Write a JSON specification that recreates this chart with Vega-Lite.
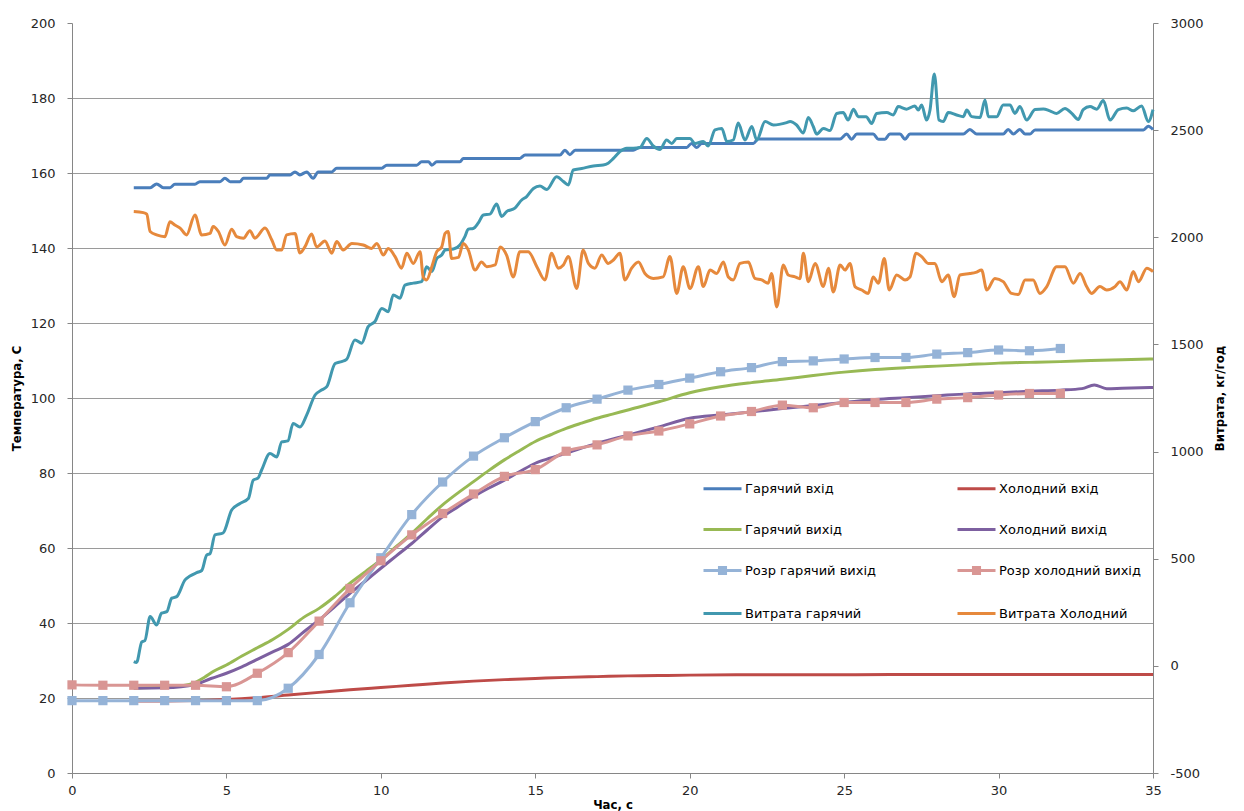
{
  "$schema": "https://vega.github.io/schema/vega-lite/v6.json",
  "width": 1081,
  "height": 750,
  "autosize": {"type": "none"},
  "padding": {"left": 72, "top": 23, "right": 91, "bottom": 38},
  "background": "white",
  "config": {
    "view": {"stroke": null},
    "font": "DejaVu Sans",
    "axis": {
      "domainColor": "#868686",
      "tickColor": "#868686",
      "tickSize": 5,
      "labelFont": "DejaVu Sans",
      "labelFontSize": 13,
      "labelColor": "#262626",
      "titleFont": "Liberation Sans Narrow, DejaVu Sans Condensed, DejaVu Sans",
      "titleFontSize": 13,
      "titleFontWeight": "bold",
      "titleColor": "#000000",
      "gridColor": "#9a9a9a",
      "gridWidth": 1
    }
  },
  "datasets": {
    "temp": [
      {"t":2.0,"v":156.1,"s":"Гарячий вхід"},{"t":2.53,"v":156.1,"s":"Гарячий вхід"},{"t":2.74,"v":157.1,"s":"Гарячий вхід"},{"t":2.96,"v":156.1,"s":"Гарячий вхід"},{"t":3.17,"v":156.1,"s":"Гарячий вхід"},{"t":3.33,"v":157.0,"s":"Гарячий вхід"},{"t":3.98,"v":157.0,"s":"Гарячий вхід"},{"t":4.14,"v":157.7,"s":"Гарячий вхід"},{"t":4.79,"v":157.7,"s":"Гарячий вхід"},{"t":4.95,"v":158.6,"s":"Гарячий вхід"},{"t":5.12,"v":157.7,"s":"Гарячий вхід"},{"t":5.44,"v":157.7,"s":"Гарячий вхід"},{"t":5.55,"v":158.6,"s":"Гарячий вхід"},{"t":6.30,"v":158.6,"s":"Гарячий вхід"},{"t":6.41,"v":159.5,"s":"Гарячий вхід"},{"t":7.06,"v":159.5,"s":"Гарячий вхід"},{"t":7.22,"v":160.3,"s":"Гарячий вхід"},{"t":7.38,"v":159.5,"s":"Гарячий вхід"},{"t":7.60,"v":160.3,"s":"Гарячий вхід"},{"t":7.81,"v":158.6,"s":"Гарячий вхід"},{"t":7.97,"v":160.3,"s":"Гарячий вхід"},{"t":8.41,"v":160.3,"s":"Гарячий вхід"},{"t":8.57,"v":161.3,"s":"Гарячий вхід"},{"t":10.03,"v":161.3,"s":"Гарячий вхід"},{"t":10.19,"v":162.1,"s":"Гарячий вхід"},{"t":11.16,"v":162.1,"s":"Гарячий вхід"},{"t":11.32,"v":163.0,"s":"Гарячий вхід"},{"t":11.54,"v":163.0,"s":"Гарячий вхід"},{"t":11.65,"v":162.1,"s":"Гарячий вхід"},{"t":11.81,"v":163.0,"s":"Гарячий вхід"},{"t":12.56,"v":163.0,"s":"Гарячий вхід"},{"t":12.67,"v":163.9,"s":"Гарячий вхід"},{"t":14.50,"v":163.9,"s":"Гарячий вхід"},{"t":14.67,"v":164.8,"s":"Гарячий вхід"},{"t":15.80,"v":164.8,"s":"Гарячий вхід"},{"t":15.96,"v":166.1,"s":"Гарячий вхід"},{"t":16.12,"v":164.9,"s":"Гарячий вхід"},{"t":16.29,"v":166.1,"s":"Гарячий вхід"},{"t":18.17,"v":166.1,"s":"Гарячий вхід"},{"t":18.39,"v":166.8,"s":"Гарячий вхід"},{"t":19.90,"v":166.8,"s":"Гарячий вхід"},{"t":20.06,"v":167.9,"s":"Гарячий вхід"},{"t":20.23,"v":166.8,"s":"Гарячий вхід"},{"t":20.39,"v":167.9,"s":"Гарячий вхід"},{"t":22.06,"v":167.9,"s":"Гарячий вхід"},{"t":22.22,"v":169.1,"s":"Гарячий вхід"},{"t":24.87,"v":169.1,"s":"Гарячий вхід"},{"t":25.08,"v":170.4,"s":"Гарячий вхід"},{"t":25.24,"v":169.0,"s":"Гарячий вхід"},{"t":25.41,"v":170.4,"s":"Гарячий вхід"},{"t":25.94,"v":170.4,"s":"Гарячий вхід"},{"t":26.11,"v":169.0,"s":"Гарячий вхід"},{"t":26.32,"v":169.0,"s":"Гарячий вхід"},{"t":26.48,"v":170.4,"s":"Гарячий вхід"},{"t":26.81,"v":170.4,"s":"Гарячий вхід"},{"t":26.97,"v":169.0,"s":"Гарячий вхід"},{"t":27.13,"v":170.4,"s":"Гарячий вхід"},{"t":28.86,"v":170.4,"s":"Гарячий вхід"},{"t":29.07,"v":171.6,"s":"Гарячий вхід"},{"t":29.29,"v":170.4,"s":"Гарячий вхід"},{"t":30.15,"v":170.4,"s":"Гарячий вхід"},{"t":30.31,"v":171.6,"s":"Гарячий вхід"},{"t":30.48,"v":170.4,"s":"Гарячий вхід"},{"t":30.69,"v":171.6,"s":"Гарячий вхід"},{"t":30.86,"v":170.4,"s":"Гарячий вхід"},{"t":31.02,"v":170.4,"s":"Гарячий вхід"},{"t":31.18,"v":171.5,"s":"Гарячий вхід"},{"t":34.69,"v":171.5,"s":"Гарячий вхід"},{"t":34.85,"v":172.5,"s":"Гарячий вхід"},{"t":35.0,"v":171.6,"s":"Гарячий вхід"},

      {"t":2,"v":19.2,"s":"Холодний вхід"},{"t":3,"v":19.2,"s":"Холодний вхід"},{"t":4,"v":19.3,"s":"Холодний вхід"},{"t":5,"v":19.6,"s":"Холодний вхід"},{"t":6,"v":20.1,"s":"Холодний вхід"},{"t":7,"v":20.8,"s":"Холодний вхід"},{"t":8,"v":21.5,"s":"Холодний вхід"},{"t":9,"v":22.2,"s":"Холодний вхід"},{"t":10,"v":22.8,"s":"Холодний вхід"},{"t":11,"v":23.4,"s":"Холодний вхід"},{"t":12,"v":24.0,"s":"Холодний вхід"},{"t":13,"v":24.5,"s":"Холодний вхід"},{"t":14,"v":24.9,"s":"Холодний вхід"},{"t":15,"v":25.2,"s":"Холодний вхід"},{"t":16,"v":25.5,"s":"Холодний вхід"},{"t":17,"v":25.7,"s":"Холодний вхід"},{"t":18,"v":25.9,"s":"Холодний вхід"},{"t":19,"v":26.0,"s":"Холодний вхід"},{"t":20,"v":26.1,"s":"Холодний вхід"},{"t":22,"v":26.2,"s":"Холодний вхід"},{"t":25,"v":26.2,"s":"Холодний вхід"},{"t":28,"v":26.3,"s":"Холодний вхід"},{"t":31,"v":26.3,"s":"Холодний вхід"},{"t":35,"v":26.3,"s":"Холодний вхід"},

      {"t":2,"v":22.6,"s":"Гарячий вихід"},{"t":3,"v":22.9,"s":"Гарячий вихід"},{"t":3.5,"v":23.2,"s":"Гарячий вихід"},{"t":4,"v":24.2,"s":"Гарячий вихід"},{"t":4.3,"v":25.6,"s":"Гарячий вихід"},{"t":4.6,"v":27.2,"s":"Гарячий вихід"},{"t":5,"v":28.8,"s":"Гарячий вихід"},{"t":5.5,"v":31.2,"s":"Гарячий вихід"},{"t":6,"v":33.4,"s":"Гарячий вихід"},{"t":6.5,"v":35.6,"s":"Гарячий вихід"},{"t":7,"v":38.3,"s":"Гарячий вихід"},{"t":7.5,"v":41.5,"s":"Гарячий вихід"},{"t":8,"v":43.9,"s":"Гарячий вихід"},{"t":8.5,"v":47.0,"s":"Гарячий вихід"},{"t":9,"v":50.6,"s":"Гарячий вихід"},{"t":9.5,"v":53.7,"s":"Гарячий вихід"},{"t":10,"v":56.8,"s":"Гарячий вихід"},{"t":10.5,"v":60.4,"s":"Гарячий вихід"},{"t":11,"v":63.9,"s":"Гарячий вихід"},{"t":11.5,"v":67.8,"s":"Гарячий вихід"},{"t":12,"v":71.5,"s":"Гарячий вихід"},{"t":12.5,"v":74.7,"s":"Гарячий вихід"},{"t":13,"v":77.7,"s":"Гарячий вихід"},{"t":13.5,"v":80.7,"s":"Гарячий вихід"},{"t":14,"v":83.5,"s":"Гарячий вихід"},{"t":14.5,"v":86.0,"s":"Гарячий вихід"},{"t":15,"v":88.4,"s":"Гарячий вихід"},{"t":15.5,"v":90.2,"s":"Гарячий вихід"},{"t":16,"v":91.9,"s":"Гарячий вихід"},{"t":16.5,"v":93.3,"s":"Гарячий вихід"},{"t":17,"v":94.6,"s":"Гарячий вихід"},{"t":17.5,"v":95.7,"s":"Гарячий вихід"},{"t":18,"v":96.8,"s":"Гарячий вихід"},{"t":19,"v":99.0,"s":"Гарячий вихід"},{"t":20,"v":101.4,"s":"Гарячий вихід"},{"t":21,"v":103.0,"s":"Гарячий вихід"},{"t":22,"v":104.1,"s":"Гарячий вихід"},{"t":23,"v":105.0,"s":"Гарячий вихід"},{"t":24,"v":106.0,"s":"Гарячий вихід"},{"t":25,"v":106.9,"s":"Гарячий вихід"},{"t":26,"v":107.6,"s":"Гарячий вихід"},{"t":27,"v":108.1,"s":"Гарячий вихід"},{"t":28,"v":108.5,"s":"Гарячий вихід"},{"t":29,"v":108.9,"s":"Гарячий вихід"},{"t":30,"v":109.3,"s":"Гарячий вихід"},{"t":31,"v":109.5,"s":"Гарячий вихід"},{"t":32,"v":109.7,"s":"Гарячий вихід"},{"t":33,"v":110.0,"s":"Гарячий вихід"},{"t":34,"v":110.2,"s":"Гарячий вихід"},{"t":35,"v":110.4,"s":"Гарячий вихід"},

      {"t":2,"v":22.6,"s":"Холодний вихід"},{"t":3,"v":22.7,"s":"Холодний вихід"},{"t":4,"v":23.6,"s":"Холодний вихід"},{"t":4.5,"v":25.2,"s":"Холодний вихід"},{"t":5,"v":26.6,"s":"Холодний вихід"},{"t":5.5,"v":28.3,"s":"Холодний вихід"},{"t":6,"v":30.3,"s":"Холодний вихід"},{"t":6.5,"v":32.3,"s":"Холодний вихід"},{"t":7,"v":34.3,"s":"Холодний вихід"},{"t":7.5,"v":37.6,"s":"Холодний вихід"},{"t":8,"v":40.8,"s":"Холодний вихід"},{"t":8.5,"v":44.3,"s":"Холодний вихід"},{"t":9,"v":47.9,"s":"Холодний вихід"},{"t":9.5,"v":51.2,"s":"Холодний вихід"},{"t":10,"v":54.6,"s":"Холодний вихід"},{"t":10.5,"v":57.9,"s":"Холодний вихід"},{"t":11,"v":61.2,"s":"Холодний вихід"},{"t":11.5,"v":64.8,"s":"Холодний вихід"},{"t":12,"v":68.3,"s":"Холодний вихід"},{"t":12.5,"v":71.0,"s":"Холодний вихід"},{"t":13,"v":73.7,"s":"Холодний вихід"},{"t":13.5,"v":76.0,"s":"Холодний вихід"},{"t":14,"v":78.1,"s":"Холодний вихід"},{"t":14.5,"v":80.4,"s":"Холодний вихід"},{"t":15,"v":82.6,"s":"Холодний вихід"},{"t":15.5,"v":84.0,"s":"Холодний вихід"},{"t":16,"v":85.3,"s":"Холодний вихід"},{"t":17,"v":87.9,"s":"Холодний вихід"},{"t":18,"v":90.1,"s":"Холодний вихід"},{"t":19,"v":92.3,"s":"Холодний вихід"},{"t":20,"v":94.6,"s":"Холодний вихід"},{"t":21,"v":95.5,"s":"Холодний вихід"},{"t":22,"v":96.3,"s":"Холодний вихід"},{"t":23,"v":97.2,"s":"Холодний вихід"},{"t":24,"v":98.0,"s":"Холодний вихід"},{"t":25,"v":98.8,"s":"Холодний вихід"},{"t":26,"v":99.6,"s":"Холодний вихід"},{"t":27,"v":100.1,"s":"Холодний вихід"},{"t":28,"v":100.6,"s":"Холодний вихід"},{"t":29,"v":101.1,"s":"Холодний вихід"},{"t":30,"v":101.4,"s":"Холодний вихід"},{"t":31,"v":101.8,"s":"Холодний вихід"},{"t":32,"v":102.1,"s":"Холодний вихід"},{"t":32.7,"v":102.5,"s":"Холодний вихід"},{"t":33.1,"v":103.5,"s":"Холодний вихід"},{"t":33.5,"v":102.5,"s":"Холодний вихід"},{"t":34,"v":102.6,"s":"Холодний вихід"},{"t":35,"v":102.8,"s":"Холодний вихід"},

      {"t":0,"v":19.3,"s":"Розр гарячий вихід"},{"t":1,"v":19.3,"s":"Розр гарячий вихід"},{"t":2,"v":19.3,"s":"Розр гарячий вихід"},{"t":3,"v":19.3,"s":"Розр гарячий вихід"},{"t":4,"v":19.3,"s":"Розр гарячий вихід"},{"t":5,"v":19.3,"s":"Розр гарячий вихід"},{"t":6,"v":19.3,"s":"Розр гарячий вихід"},{"t":7,"v":22.6,"s":"Розр гарячий вихід"},{"t":8,"v":31.6,"s":"Розр гарячий вихід"},{"t":9,"v":45.4,"s":"Розр гарячий вихід"},{"t":10,"v":57.4,"s":"Розр гарячий вихід"},{"t":11,"v":68.9,"s":"Розр гарячий вихід"},{"t":12,"v":77.6,"s":"Розр гарячий вихід"},{"t":13,"v":84.5,"s":"Розр гарячий вихід"},{"t":14,"v":89.4,"s":"Розр гарячий вихід"},{"t":15,"v":93.7,"s":"Розр гарячий вихід"},{"t":16,"v":97.4,"s":"Розр гарячий вихід"},{"t":17,"v":99.7,"s":"Розр гарячий вихід"},{"t":18,"v":102.1,"s":"Розр гарячий вихід"},{"t":19,"v":103.6,"s":"Розр гарячий вихід"},{"t":20,"v":105.3,"s":"Розр гарячий вихід"},{"t":21,"v":107.0,"s":"Розр гарячий вихід"},{"t":22,"v":108.1,"s":"Розр гарячий вихід"},{"t":23,"v":109.7,"s":"Розр гарячий вихід"},{"t":24,"v":109.9,"s":"Розр гарячий вихід"},{"t":25,"v":110.4,"s":"Розр гарячий вихід"},{"t":26,"v":110.8,"s":"Розр гарячий вихід"},{"t":27,"v":110.8,"s":"Розр гарячий вихід"},{"t":28,"v":111.7,"s":"Розр гарячий вихід"},{"t":29,"v":112.1,"s":"Розр гарячий вихід"},{"t":30,"v":112.8,"s":"Розр гарячий вихід"},{"t":31,"v":112.6,"s":"Розр гарячий вихід"},{"t":32,"v":113.2,"s":"Розр гарячий вихід"},

      {"t":0,"v":23.5,"s":"Розр холодний вихід"},{"t":1,"v":23.4,"s":"Розр холодний вихід"},{"t":2,"v":23.4,"s":"Розр холодний вихід"},{"t":3,"v":23.4,"s":"Розр холодний вихід"},{"t":4,"v":23.4,"s":"Розр холодний вихід"},{"t":5,"v":23.0,"s":"Розр холодний вихід"},{"t":6,"v":26.6,"s":"Розр холодний вихід"},{"t":7,"v":32.1,"s":"Розр холодний вихід"},{"t":8,"v":40.5,"s":"Розр холодний вихід"},{"t":9,"v":49.2,"s":"Розр холодний вихід"},{"t":10,"v":56.6,"s":"Розр холодний вихід"},{"t":11,"v":63.5,"s":"Розр холодний вихід"},{"t":12,"v":69.2,"s":"Розр холодний вихід"},{"t":13,"v":74.4,"s":"Розр холодний вихід"},{"t":14,"v":79.1,"s":"Розр холодний вихід"},{"t":15,"v":80.9,"s":"Розр холодний вихід"},{"t":16,"v":85.8,"s":"Розр холодний вихід"},{"t":17,"v":87.5,"s":"Розр холодний вихід"},{"t":18,"v":89.9,"s":"Розр холодний вихід"},{"t":19,"v":91.2,"s":"Розр холодний вихід"},{"t":20,"v":93.1,"s":"Розр холодний вихід"},{"t":21,"v":95.2,"s":"Розр холодний вихід"},{"t":22,"v":96.4,"s":"Розр холодний вихід"},{"t":23,"v":98.1,"s":"Розр холодний вихід"},{"t":24,"v":97.4,"s":"Розр холодний вихід"},{"t":25,"v":98.8,"s":"Розр холодний вихід"},{"t":26,"v":98.8,"s":"Розр холодний вихід"},{"t":27,"v":98.8,"s":"Розр холодний вихід"},{"t":28,"v":99.7,"s":"Розр холодний вихід"},{"t":29,"v":100.1,"s":"Розр холодний вихід"},{"t":30,"v":100.8,"s":"Розр холодний вихід"},{"t":31,"v":101.2,"s":"Розр холодний вихід"},{"t":32,"v":101.2,"s":"Розр холодний вихід"}
    ],
    "flow": [
      {"t":2.00,"v":20,"s":"Витрата гарячий"},{"t":2.09,"v":16,"s":"Витрата гарячий"},{"t":2.26,"v":112,"s":"Витрата гарячий"},{"t":2.36,"v":118,"s":"Витрата гарячий"},{"t":2.53,"v":230,"s":"Витрата гарячий"},{"t":2.74,"v":191,"s":"Витрата гарячий"},{"t":2.90,"v":246,"s":"Витрата гарячий"},{"t":3.07,"v":253,"s":"Витрата гарячий"},{"t":3.23,"v":316,"s":"Витрата гарячий"},{"t":3.39,"v":323,"s":"Витрата гарячий"},{"t":3.66,"v":401,"s":"Витрата гарячий"},{"t":3.82,"v":419,"s":"Витрата гарячий"},{"t":4.04,"v":435,"s":"Витрата гарячий"},{"t":4.20,"v":445,"s":"Витрата гарячий"},{"t":4.36,"v":517,"s":"Витрата гарячий"},{"t":4.47,"v":524,"s":"Витрата гарячий"},{"t":4.63,"v":611,"s":"Витрата гарячий"},{"t":4.89,"v":620,"s":"Витрата гарячий"},{"t":5.17,"v":727,"s":"Витрата гарячий"},{"t":5.44,"v":758,"s":"Витрата гарячий"},{"t":5.71,"v":781,"s":"Витрата гарячий"},{"t":5.87,"v":867,"s":"Витрата гарячий"},{"t":6.02,"v":876,"s":"Витрата гарячий"},{"t":6.14,"v":914,"s":"Витрата гарячий"},{"t":6.41,"v":991,"s":"Витрата гарячий"},{"t":6.63,"v":975,"s":"Витрата гарячий"},{"t":6.79,"v":1045,"s":"Витрата гарячий"},{"t":6.99,"v":1050,"s":"Витрата гарячий"},{"t":7.16,"v":1131,"s":"Витрата гарячий"},{"t":7.38,"v":1115,"s":"Витрата гарячий"},{"t":7.60,"v":1171,"s":"Витрата гарячий"},{"t":7.87,"v":1264,"s":"Витрата гарячий"},{"t":8.08,"v":1287,"s":"Витрата гарячий"},{"t":8.25,"v":1303,"s":"Витрата гарячий"},{"t":8.52,"v":1411,"s":"Витрата гарячий"},{"t":8.73,"v":1420,"s":"Витрата гарячий"},{"t":8.89,"v":1430,"s":"Витрата гарячий"},{"t":9.16,"v":1521,"s":"Витрата гарячий"},{"t":9.38,"v":1506,"s":"Витрата гарячий"},{"t":9.59,"v":1583,"s":"Витрата гарячий"},{"t":9.81,"v":1607,"s":"Витрата гарячий"},{"t":10.03,"v":1668,"s":"Витрата гарячий"},{"t":10.24,"v":1653,"s":"Витрата гарячий"},{"t":10.40,"v":1731,"s":"Витрата гарячий"},{"t":10.62,"v":1716,"s":"Витрата гарячий"},{"t":10.78,"v":1777,"s":"Витрата гарячий"},{"t":11.05,"v":1786,"s":"Витрата гарячий"},{"t":11.32,"v":1793,"s":"Витрата гарячий"},{"t":11.48,"v":1863,"s":"Витрата гарячий"},{"t":11.65,"v":1840,"s":"Витрата гарячий"},{"t":11.81,"v":1901,"s":"Витрата гарячий"},{"t":11.97,"v":1917,"s":"Витрата гарячий"},{"t":12.08,"v":1941,"s":"Витрата гарячий"},{"t":12.35,"v":1945,"s":"Витрата гарячий"},{"t":12.56,"v":1964,"s":"Витрата гарячий"},{"t":12.72,"v":2003,"s":"Витрата гарячий"},{"t":12.83,"v":2038,"s":"Витрата гарячий"},{"t":12.99,"v":2041,"s":"Витрата гарячий"},{"t":13.15,"v":2066,"s":"Витрата гарячий"},{"t":13.32,"v":2104,"s":"Витрата гарячий"},{"t":13.53,"v":2108,"s":"Витрата гарячий"},{"t":13.75,"v":2155,"s":"Витрата гарячий"},{"t":13.91,"v":2097,"s":"Витрата гарячий"},{"t":14.07,"v":2120,"s":"Витрата гарячий"},{"t":14.34,"v":2136,"s":"Витрата гарячий"},{"t":14.56,"v":2174,"s":"Витрата гарячий"},{"t":14.72,"v":2190,"s":"Витрата гарячий"},{"t":14.94,"v":2228,"s":"Витрата гарячий"},{"t":15.15,"v":2239,"s":"Витрата гарячий"},{"t":15.37,"v":2223,"s":"Витрата гарячий"},{"t":15.69,"v":2283,"s":"Витрата гарячий"},{"t":15.91,"v":2260,"s":"Витрата гарячий"},{"t":16.07,"v":2244,"s":"Витрата гарячий"},{"t":16.23,"v":2314,"s":"Витрата гарячий"},{"t":16.50,"v":2321,"s":"Витрата гарячий"},{"t":16.88,"v":2333,"s":"Витрата гарячий"},{"t":17.20,"v":2337,"s":"Витрата гарячий"},{"t":17.36,"v":2346,"s":"Витрата гарячий"},{"t":17.53,"v":2368,"s":"Витрата гарячий"},{"t":17.74,"v":2400,"s":"Витрата гарячий"},{"t":17.96,"v":2416,"s":"Витрата гарячий"},{"t":18.17,"v":2416,"s":"Витрата гарячий"},{"t":18.39,"v":2419,"s":"Витрата гарячий"},{"t":18.61,"v":2461,"s":"Витрата гарячий"},{"t":18.82,"v":2426,"s":"Витрата гарячий"},{"t":19.04,"v":2410,"s":"Витрата гарячий"},{"t":19.25,"v":2454,"s":"Витрата гарячий"},{"t":19.42,"v":2438,"s":"Витрата гарячий"},{"t":19.58,"v":2461,"s":"Витрата гарячий"},{"t":20.01,"v":2461,"s":"Витрата гарячий"},{"t":20.17,"v":2438,"s":"Витрата гарячий"},{"t":20.44,"v":2447,"s":"Витрата гарячий"},{"t":20.60,"v":2426,"s":"Витрата гарячий"},{"t":20.82,"v":2501,"s":"Витрата гарячий"},{"t":21.04,"v":2508,"s":"Витрата гарячий"},{"t":21.20,"v":2447,"s":"Витрата гарячий"},{"t":21.41,"v":2454,"s":"Витрата гарячий"},{"t":21.57,"v":2533,"s":"Витрата гарячий"},{"t":21.79,"v":2454,"s":"Витрата гарячий"},{"t":22.01,"v":2517,"s":"Витрата гарячий"},{"t":22.17,"v":2454,"s":"Витрата гарячий"},{"t":22.44,"v":2540,"s":"Витрата гарячий"},{"t":22.71,"v":2524,"s":"Витрата гарячий"},{"t":23.14,"v":2535,"s":"Витрата гарячий"},{"t":23.25,"v":2540,"s":"Витрата гарячий"},{"t":23.46,"v":2524,"s":"Витрата гарячий"},{"t":23.68,"v":2487,"s":"Витрата гарячий"},{"t":23.84,"v":2559,"s":"Витрата гарячий"},{"t":24.00,"v":2517,"s":"Витрата гарячий"},{"t":24.11,"v":2482,"s":"Витрата гарячий"},{"t":24.33,"v":2508,"s":"Витрата гарячий"},{"t":24.54,"v":2498,"s":"Витрата гарячий"},{"t":24.76,"v":2578,"s":"Витрата гарячий"},{"t":24.97,"v":2582,"s":"Витрата гарячий"},{"t":25.13,"v":2547,"s":"Витрата гарячий"},{"t":25.30,"v":2598,"s":"Витрата гарячий"},{"t":25.46,"v":2563,"s":"Витрата гарячий"},{"t":25.71,"v":2563,"s":"Витрата гарячий"},{"t":25.89,"v":2531,"s":"Витрата гарячий"},{"t":26.05,"v":2578,"s":"Витрата гарячий"},{"t":26.38,"v":2582,"s":"Витрата гарячий"},{"t":26.59,"v":2571,"s":"Витрата гарячий"},{"t":26.75,"v":2610,"s":"Витрата гарячий"},{"t":27.02,"v":2598,"s":"Витрата гарячий"},{"t":27.29,"v":2613,"s":"Витрата гарячий"},{"t":27.40,"v":2594,"s":"Витрата гарячий"},{"t":27.51,"v":2617,"s":"Витрата гарячий"},{"t":27.67,"v":2547,"s":"Витрата гарячий"},{"t":27.78,"v":2594,"s":"Витрата гарячий"},{"t":27.92,"v":2762,"s":"Витрата гарячий"},{"t":28.07,"v":2547,"s":"Витрата гарячий"},{"t":28.21,"v":2540,"s":"Витрата гарячий"},{"t":28.37,"v":2582,"s":"Витрата гарячий"},{"t":28.64,"v":2571,"s":"Витрата гарячий"},{"t":28.86,"v":2563,"s":"Витрата гарячий"},{"t":28.97,"v":2594,"s":"Витрата гарячий"},{"t":29.13,"v":2563,"s":"Витрата гарячий"},{"t":29.40,"v":2559,"s":"Витрата гарячий"},{"t":29.56,"v":2641,"s":"Витрата гарячий"},{"t":29.67,"v":2563,"s":"Витрата гарячий"},{"t":29.94,"v":2563,"s":"Витрата гарячий"},{"t":30.15,"v":2617,"s":"Витрата гарячий"},{"t":30.37,"v":2617,"s":"Витрата гарячий"},{"t":30.53,"v":2578,"s":"Витрата гарячий"},{"t":30.69,"v":2610,"s":"Витрата гарячий"},{"t":30.91,"v":2547,"s":"Витрата гарячий"},{"t":31.18,"v":2596,"s":"Витрата гарячий"},{"t":31.45,"v":2599,"s":"Витрата гарячий"},{"t":31.66,"v":2590,"s":"Витрата гарячий"},{"t":31.88,"v":2578,"s":"Витрата гарячий"},{"t":32.15,"v":2601,"s":"Витрата гарячий"},{"t":32.37,"v":2578,"s":"Витрата гарячий"},{"t":32.58,"v":2550,"s":"Витрата гарячий"},{"t":32.74,"v":2596,"s":"Витрата гарячий"},{"t":32.96,"v":2610,"s":"Витрата гарячий"},{"t":33.18,"v":2598,"s":"Витрата гарячий"},{"t":33.39,"v":2638,"s":"Витрата гарячий"},{"t":33.61,"v":2547,"s":"Витрата гарячий"},{"t":33.88,"v":2596,"s":"Витрата гарячий"},{"t":34.15,"v":2603,"s":"Витрата гарячий"},{"t":34.36,"v":2590,"s":"Витрата гарячий"},{"t":34.63,"v":2613,"s":"Витрата гарячий"},{"t":34.85,"v":2540,"s":"Витрата гарячий"},{"t":35.0,"v":2596,"s":"Витрата гарячий"},

      {"t":2.00,"v":2120,"s":"Витрата Холодний"},{"t":2.31,"v":2115,"s":"Витрата Холодний"},{"t":2.42,"v":2108,"s":"Витрата Холодний"},{"t":2.53,"v":2027,"s":"Витрата Холодний"},{"t":2.74,"v":2011,"s":"Витрата Холодний"},{"t":3.01,"v":2003,"s":"Витрата Холодний"},{"t":3.17,"v":2073,"s":"Витрата Холодний"},{"t":3.33,"v":2057,"s":"Витрата Холодний"},{"t":3.50,"v":2043,"s":"Витрата Холодний"},{"t":3.71,"v":2011,"s":"Витрата Холодний"},{"t":3.98,"v":2104,"s":"Витрата Холодний"},{"t":4.20,"v":2011,"s":"Витрата Холодний"},{"t":4.47,"v":2018,"s":"Витрата Холодний"},{"t":4.57,"v":2050,"s":"Витрата Холодний"},{"t":4.74,"v":2027,"s":"Витрата Холодний"},{"t":4.95,"v":1964,"s":"Витрата Холодний"},{"t":5.17,"v":2038,"s":"Витрата Холодний"},{"t":5.33,"v":2003,"s":"Витрата Холодний"},{"t":5.55,"v":1996,"s":"Витрата Холодний"},{"t":5.76,"v":2031,"s":"Витрата Холодний"},{"t":5.92,"v":1996,"s":"Витрата Холодний"},{"t":6.25,"v":2043,"s":"Витрата Холодний"},{"t":6.47,"v":1987,"s":"Витрата Холодний"},{"t":6.63,"v":1941,"s":"Витрата Холодний"},{"t":6.79,"v":1941,"s":"Витрата Холодний"},{"t":6.95,"v":2011,"s":"Витрата Холодний"},{"t":7.22,"v":2018,"s":"Витрата Холодний"},{"t":7.38,"v":1927,"s":"Витрата Холодний"},{"t":7.54,"v":1955,"s":"Витрата Холодний"},{"t":7.76,"v":2015,"s":"Витрата Холодний"},{"t":7.92,"v":1955,"s":"Витрата Холодний"},{"t":8.19,"v":1983,"s":"Витрата Холодний"},{"t":8.41,"v":1926,"s":"Витрата Холодний"},{"t":8.57,"v":1980,"s":"Витрата Холодний"},{"t":8.78,"v":1941,"s":"Витрата Холодний"},{"t":9.06,"v":1971,"s":"Витрата Холодний"},{"t":9.43,"v":1964,"s":"Витрата Холодний"},{"t":9.70,"v":1948,"s":"Витрата Холодний"},{"t":9.87,"v":1971,"s":"Витрата Холодний"},{"t":10.08,"v":1917,"s":"Витрата Холодний"},{"t":10.24,"v":1948,"s":"Витрата Холодний"},{"t":10.46,"v":1910,"s":"Витрата Холодний"},{"t":10.67,"v":1856,"s":"Витрата Холодний"},{"t":10.84,"v":1926,"s":"Витрата Холодний"},{"t":11.05,"v":1878,"s":"Витрата Холодний"},{"t":11.27,"v":1933,"s":"Витрата Холодний"},{"t":11.37,"v":1815,"s":"Витрата Холодний"},{"t":11.48,"v":1801,"s":"Витрата Холодний"},{"t":11.65,"v":1863,"s":"Витрата Холодний"},{"t":11.81,"v":1933,"s":"Витрата Холодний"},{"t":11.97,"v":1955,"s":"Витрата Холодний"},{"t":12.08,"v":2018,"s":"Витрата Холодний"},{"t":12.18,"v":2027,"s":"Витрата Холодний"},{"t":12.29,"v":1901,"s":"Витрата Холодний"},{"t":12.51,"v":1906,"s":"Витрата Холодний"},{"t":12.67,"v":1971,"s":"Витрата Холодний"},{"t":12.83,"v":1941,"s":"Витрата Холодний"},{"t":13.05,"v":1847,"s":"Витрата Холодний"},{"t":13.26,"v":1885,"s":"Витрата Холодний"},{"t":13.43,"v":1863,"s":"Витрата Холодний"},{"t":13.70,"v":1871,"s":"Витрата Холодний"},{"t":13.86,"v":1955,"s":"Витрата Холодний"},{"t":14.07,"v":1917,"s":"Витрата Холодний"},{"t":14.29,"v":1815,"s":"Витрата Холодний"},{"t":14.50,"v":1933,"s":"Витрата Холодний"},{"t":14.77,"v":1933,"s":"Витрата Холодний"},{"t":15.05,"v":1863,"s":"Витрата Холодний"},{"t":15.31,"v":1801,"s":"Витрата Холодний"},{"t":15.53,"v":1926,"s":"Витрата Холодний"},{"t":15.74,"v":1856,"s":"Витрата Холодний"},{"t":15.91,"v":1871,"s":"Витрата Холодний"},{"t":16.07,"v":1910,"s":"Витрата Холодний"},{"t":16.34,"v":1761,"s":"Витрата Холодний"},{"t":16.55,"v":1941,"s":"Витрата Холодний"},{"t":16.72,"v":1878,"s":"Витрата Холодний"},{"t":16.93,"v":1856,"s":"Витрата Холодний"},{"t":17.15,"v":1917,"s":"Витрата Холодний"},{"t":17.36,"v":1878,"s":"Витрата Холодний"},{"t":17.53,"v":1894,"s":"Витрата Холодний"},{"t":17.74,"v":1926,"s":"Витрата Холодний"},{"t":17.90,"v":1801,"s":"Витрата Холодний"},{"t":18.12,"v":1856,"s":"Витрата Холодний"},{"t":18.34,"v":1885,"s":"Витрата Холодний"},{"t":18.55,"v":1831,"s":"Витрата Холодний"},{"t":18.82,"v":1808,"s":"Витрата Холодний"},{"t":19.14,"v":1815,"s":"Витрата Холодний"},{"t":19.36,"v":1910,"s":"Витрата Холодний"},{"t":19.58,"v":1738,"s":"Витрата Холодний"},{"t":19.79,"v":1863,"s":"Витрата Холодний"},{"t":20.01,"v":1761,"s":"Витрата Холодний"},{"t":20.28,"v":1863,"s":"Витрата Холодний"},{"t":20.44,"v":1770,"s":"Витрата Холодний"},{"t":20.66,"v":1847,"s":"Витрата Холодний"},{"t":20.87,"v":1831,"s":"Витрата Холодний"},{"t":21.09,"v":1885,"s":"Витрата Холодний"},{"t":21.25,"v":1815,"s":"Витрата Холодний"},{"t":21.41,"v":1801,"s":"Витрата Холодний"},{"t":21.63,"v":1878,"s":"Витрата Холодний"},{"t":21.90,"v":1885,"s":"Витрата Холодний"},{"t":22.11,"v":1808,"s":"Витрата Холодний"},{"t":22.33,"v":1801,"s":"Витрата Холодний"},{"t":22.54,"v":1786,"s":"Витрата Холодний"},{"t":22.65,"v":1831,"s":"Витрата Холодний"},{"t":22.82,"v":1675,"s":"Витрата Холодний"},{"t":23.03,"v":1871,"s":"Витрата Холодний"},{"t":23.19,"v":1824,"s":"Витрата Холодний"},{"t":23.41,"v":1815,"s":"Витрата Холодний"},{"t":23.57,"v":1807,"s":"Витрата Холодний"},{"t":23.68,"v":1926,"s":"Витрата Холодний"},{"t":23.84,"v":1793,"s":"Витрата Холодний"},{"t":24.06,"v":1878,"s":"Витрата Холодний"},{"t":24.33,"v":1770,"s":"Витрата Холодний"},{"t":24.49,"v":1856,"s":"Витрата Холодний"},{"t":24.65,"v":1745,"s":"Витрата Холодний"},{"t":24.87,"v":1871,"s":"Витрата Холодний"},{"t":25.03,"v":1847,"s":"Витрата Холодний"},{"t":25.19,"v":1878,"s":"Витрата Холодний"},{"t":25.35,"v":1770,"s":"Витрата Холодний"},{"t":25.57,"v":1754,"s":"Витрата Холодний"},{"t":25.78,"v":1738,"s":"Витрата Холодний"},{"t":25.94,"v":1815,"s":"Витрата Холодний"},{"t":26.11,"v":1786,"s":"Витрата Холодний"},{"t":26.30,"v":1901,"s":"Витрата Холодний"},{"t":26.46,"v":1754,"s":"Витрата Холодний"},{"t":26.70,"v":1824,"s":"Витрата Холодний"},{"t":26.97,"v":1801,"s":"Витрата Холодний"},{"t":27.13,"v":1815,"s":"Витрата Холодний"},{"t":27.33,"v":1926,"s":"Витрата Холодний"},{"t":27.51,"v":1910,"s":"Витрата Холодний"},{"t":27.72,"v":1878,"s":"Витрата Холодний"},{"t":27.94,"v":1878,"s":"Витрата Холодний"},{"t":28.16,"v":1793,"s":"Витрата Холодний"},{"t":28.37,"v":1824,"s":"Витрата Холодний"},{"t":28.56,"v":1723,"s":"Витрата Холодний"},{"t":28.75,"v":1824,"s":"Витрата Холодний"},{"t":29.07,"v":1831,"s":"Витрата Холодний"},{"t":29.26,"v":1836,"s":"Витрата Холодний"},{"t":29.45,"v":1847,"s":"Витрата Холодний"},{"t":29.62,"v":1754,"s":"Витрата Холодний"},{"t":29.88,"v":1808,"s":"Витрата Холодний"},{"t":30.15,"v":1793,"s":"Витрата Холодний"},{"t":30.42,"v":1738,"s":"Витрата Холодний"},{"t":30.64,"v":1733,"s":"Витрата Холодний"},{"t":30.86,"v":1801,"s":"Витрата Холодний"},{"t":31.12,"v":1801,"s":"Витрата Холодний"},{"t":31.34,"v":1738,"s":"Витрата Холодний"},{"t":31.56,"v":1770,"s":"Витрата Холодний"},{"t":31.88,"v":1863,"s":"Витрата Холодний"},{"t":32.15,"v":1863,"s":"Витрата Холодний"},{"t":32.42,"v":1786,"s":"Витрата Холодний"},{"t":32.64,"v":1831,"s":"Витрата Холодний"},{"t":32.85,"v":1770,"s":"Витрата Холодний"},{"t":33.01,"v":1738,"s":"Витрата Холодний"},{"t":33.28,"v":1770,"s":"Витрата Холодний"},{"t":33.50,"v":1754,"s":"Витрата Холодний"},{"t":33.77,"v":1770,"s":"Витрата Холодний"},{"t":33.93,"v":1793,"s":"Витрата Холодний"},{"t":34.15,"v":1754,"s":"Витрата Холодний"},{"t":34.36,"v":1840,"s":"Витрата Холодний"},{"t":34.53,"v":1793,"s":"Витрата Холодний"},{"t":34.80,"v":1856,"s":"Витрата Холодний"},{"t":35.0,"v":1840,"s":"Витрата Холодний"}
    ]
  },
  "encoding": {
    "x": {
      "field": "t",
      "type": "quantitative",
      "scale": {"domain": [0, 35], "nice": false, "zero": false},
      "axis": {
        "title": "Час, с",
        "values": [0, 5, 10, 15, 20, 25, 30, 35],
        "grid": false,
        "labelPadding": 6,
        "titlePadding": 1,
        "labelFlush": false
      }
    },
    "color": {
      "field": "s",
      "type": "nominal",
      "scale": {
        "domain": ["Гарячий вхід", "Холодний вхід", "Гарячий вихід", "Холодний вихід", "Розр гарячий вихід", "Розр холодний вихід", "Витрата гарячий", "Витрата Холодний"],
        "range": ["#4A7EBB", "#BE4B48", "#98B954", "#7D60A0", "#95B3D7", "#D99694", "#4198AF", "#E6893C"]
      },
      "legend": {
        "title": null,
        "orient": "none",
        "direction": "horizontal",
        "legendX": 630,
        "legendY": 445,
        "columns": 2,
        "columnPadding": 74,
        "rowPadding": 13,
        "padding": 0,
        "labelFont": "DejaVu Sans",
        "labelFontSize": 13,
        "labelColor": "#000000",
        "labelOffset": 2,
        "labelLimit": 400,
        "symbolSize": 1444,
        "symbolStrokeWidth": 3,
        "symbolType": "stroke",
        "encode": {
          "symbols": {
            "update": {
              "shape": {"signal": "indexof(['Розр гарячий вихід', 'Розр холодний вихід'], datum.value) >= 0 ? 'M-1,0H1M-0.16,-0.16H0.16V0.16H-0.16Z' : 'stroke'"},
              "fill": {"scale": "color", "field": "value"},
              "stroke": {"scale": "color", "field": "value"},
              "strokeWidth": {"value": 3},
              "opacity": {"value": 1}
            }
          }
        }
      }
    }
  },
  "layer": [
    {
      "data": {"name": "temp"},
      "encoding": {
        "y": {
          "field": "v",
          "type": "quantitative",
          "scale": {"domain": [0, 200], "nice": false},
          "axis": {
            "orient": "left",
            "title": "Температура, С",
            "values": [0, 20, 40, 60, 80, 100, 120, 140, 160, 180, 200],
            "grid": true,
            "gridOpacity": {"condition": {"test": "datum.value === 200", "value": 0}, "value": 1},
            "labelPadding": 12,
            "titlePadding": 7
          }
        }
      },
      "layer": [
        {"mark": {"type": "line", "strokeWidth": 3, "interpolate": "monotone"}},
        {
          "transform": [{"filter": {"field": "s", "oneOf": ["Розр гарячий вихід", "Розр холодний вихід"]}}],
          "mark": {"type": "point", "shape": "square", "filled": true, "size": 85, "opacity": 1}
        }
      ]
    },
    {
      "data": {"name": "flow"},
      "mark": {"type": "line", "strokeWidth": 3, "interpolate": "monotone"},
      "encoding": {
        "y": {
          "field": "v",
          "type": "quantitative",
          "scale": {"domain": [-500, 3000], "nice": false, "zero": false},
          "axis": {
            "orient": "right",
            "title": "Витрата, кг/год",
            "values": [-500, 0, 500, 1000, 1500, 2000, 2500, 3000],
            "labelExpr": "'' + datum.value",
            "grid": false,
            "labelPadding": 12,
            "titlePadding": 23,
            "titleAngle": 270
          }
        }
      }
    }
  ],
  "resolve": {"scale": {"y": "independent"}}
}
